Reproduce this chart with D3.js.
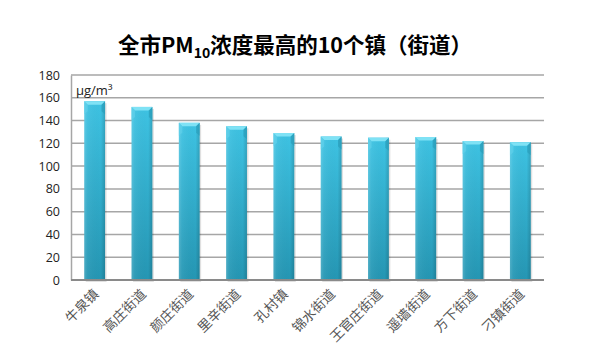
<!DOCTYPE html>
<html><head><meta charset="utf-8">
<script src="https://cdn.jsdelivr.net/npm/d3@7"></script>
<style>body{margin:0;background:#fff}svg{display:block}</style>
</head><body><svg id="c" width="591" height="357"></svg>
<script>
const categories = ["牛泉镇","高庄街道","颜庄街道","里辛街道","孔村镇","锦水街道","王官庄街道","遥墙街道","方下街道","刁镇街道"];
const values = [157,152,138,135,129,126,125,125.5,122,121];
const yTicks = [0,20,40,60,80,100,120,140,160,180];
const unitLabel = "μg/m³";

const svg = d3.select("#c");
const m = {l:71, r:47, t:75, b:77};
const W = 591, H = 357;
const x = d3.scaleBand().domain(categories).range([m.l, W - m.r]).paddingInner(0.56).paddingOuter(0.28);
const y = d3.scaleLinear().domain([0,180]).range([H - m.b, m.t]);

const defs = svg.append("defs");
const g1 = defs.append("linearGradient").attr("id","bodyV").attr("x1",0).attr("y1",0).attr("x2",0).attr("y2",1);
g1.append("stop").attr("offset","0%").attr("stop-color","#3ec3e3");
g1.append("stop").attr("offset","100%").attr("stop-color","#2596b3");
const g2 = defs.append("linearGradient").attr("id","bodyH").attr("x1",0).attr("y1",0).attr("x2",1).attr("y2",0);
g2.append("stop").attr("offset","0%").attr("stop-color","#ffffff").attr("stop-opacity",0.18);
g2.append("stop").attr("offset","15%").attr("stop-color","#ffffff").attr("stop-opacity",0.05);
g2.append("stop").attr("offset","80%").attr("stop-color","#000000").attr("stop-opacity",0.0);
g2.append("stop").attr("offset","100%").attr("stop-color","#000000").attr("stop-opacity",0.15);

// title
const title = svg.append("text").attr("x",295).attr("y",53).attr("text-anchor","middle")
  .attr("font-family","'Noto Sans CJK SC','Noto Sans',sans-serif").attr("font-weight","bold")
  .attr("font-size",21.5).attr("fill","#000");
title.append("tspan").text("全市PM");
title.append("tspan").attr("font-size",14).attr("dy",5).text("10");
title.append("tspan").attr("dy",-5).text("浓度最高的10个镇（街道）");

// grid
svg.append("g").selectAll("line").data(yTicks.filter(d=>d>0)).join("line")
  .attr("x1",m.l).attr("x2",W-m.r).attr("y1",d=>y(d)).attr("y2",d=>y(d))
  .attr("stroke","#a6a6a6").attr("stroke-width",1.5);

// y axis
const ya = svg.append("g").attr("transform",`translate(${m.l},0)`)
  .call(d3.axisLeft(y).tickValues(yTicks).tickSize(0).tickPadding(11));
ya.select(".domain").attr("stroke","#a6a6a6").attr("stroke-width",1.5);
ya.selectAll("text").attr("font-family","'Open Sans','Noto Sans',sans-serif").attr("font-size",12.5).attr("fill","#222");

// bars
const bw = x.bandwidth();
const bars = svg.append("g").selectAll("g").data(categories).join("g");
bars.append("rect").attr("x",d=>x(d)+1.5).attr("y",(d,i)=>y(values[i])+2).attr("width",bw).attr("height",(d,i)=>y(0)-y(values[i]))
  .attr("fill","#000").attr("opacity",0.12);
bars.append("rect").attr("x",d=>x(d)).attr("y",(d,i)=>y(values[i])).attr("width",bw).attr("height",(d,i)=>y(0)-y(values[i]))
  .attr("fill","url(#bodyV)");
bars.append("rect").attr("x",d=>x(d)).attr("y",(d,i)=>y(values[i])).attr("width",bw).attr("height",(d,i)=>y(0)-y(values[i]))
  .attr("fill","url(#bodyH)");
// top bevel
bars.append("path").attr("d",(d,i)=>{
  const x0=x(d), x1=x(d)+bw, t=y(values[i]), b=3.5;
  return `M${x0},${t}L${x1},${t}L${x1-b},${t+b}L${x0+b},${t+b}Z`;
}).attr("fill","#7fe2f5");
bars.append("path").attr("d",(d,i)=>{
  const x0=x(d), t=y(values[i]), b=3.5;
  return `M${x0},${t}L${x0+b},${t+b}L${x0+b},${t+10}L${x0},${t+13}Z`;
}).attr("fill","#5fd0ea").attr("opacity",0.7);
bars.append("path").attr("d",(d,i)=>{
  const x1=x(d)+bw, t=y(values[i]), b=3.5;
  return `M${x1},${t}L${x1-b},${t+b}L${x1-b},${t+10}L${x1},${t+13}Z`;
}).attr("fill","#2a9ebb").attr("opacity",0.7);

// x axis baseline
svg.append("line").attr("x1",m.l).attr("x2",W-m.r).attr("y1",y(0)).attr("y2",y(0))
  .attr("stroke","#8a8a8a").attr("stroke-width",2);

// x labels
svg.append("g").selectAll("text").data(categories).join("text")
  .attr("transform",d=>`translate(${x(d)+bw/2+5},${y(0)+15}) rotate(-45)`)
  .attr("text-anchor","end").attr("font-family","'Noto Sans CJK SC',sans-serif")
  .attr("font-size",13.5).attr("fill","#555").text(d=>d);

// unit
svg.append("text").attr("x",76).attr("y",95).attr("font-family","'Open Sans','Noto Sans',sans-serif")
  .attr("font-size",13).attr("fill","#222").text(unitLabel);
</script></body></html>
